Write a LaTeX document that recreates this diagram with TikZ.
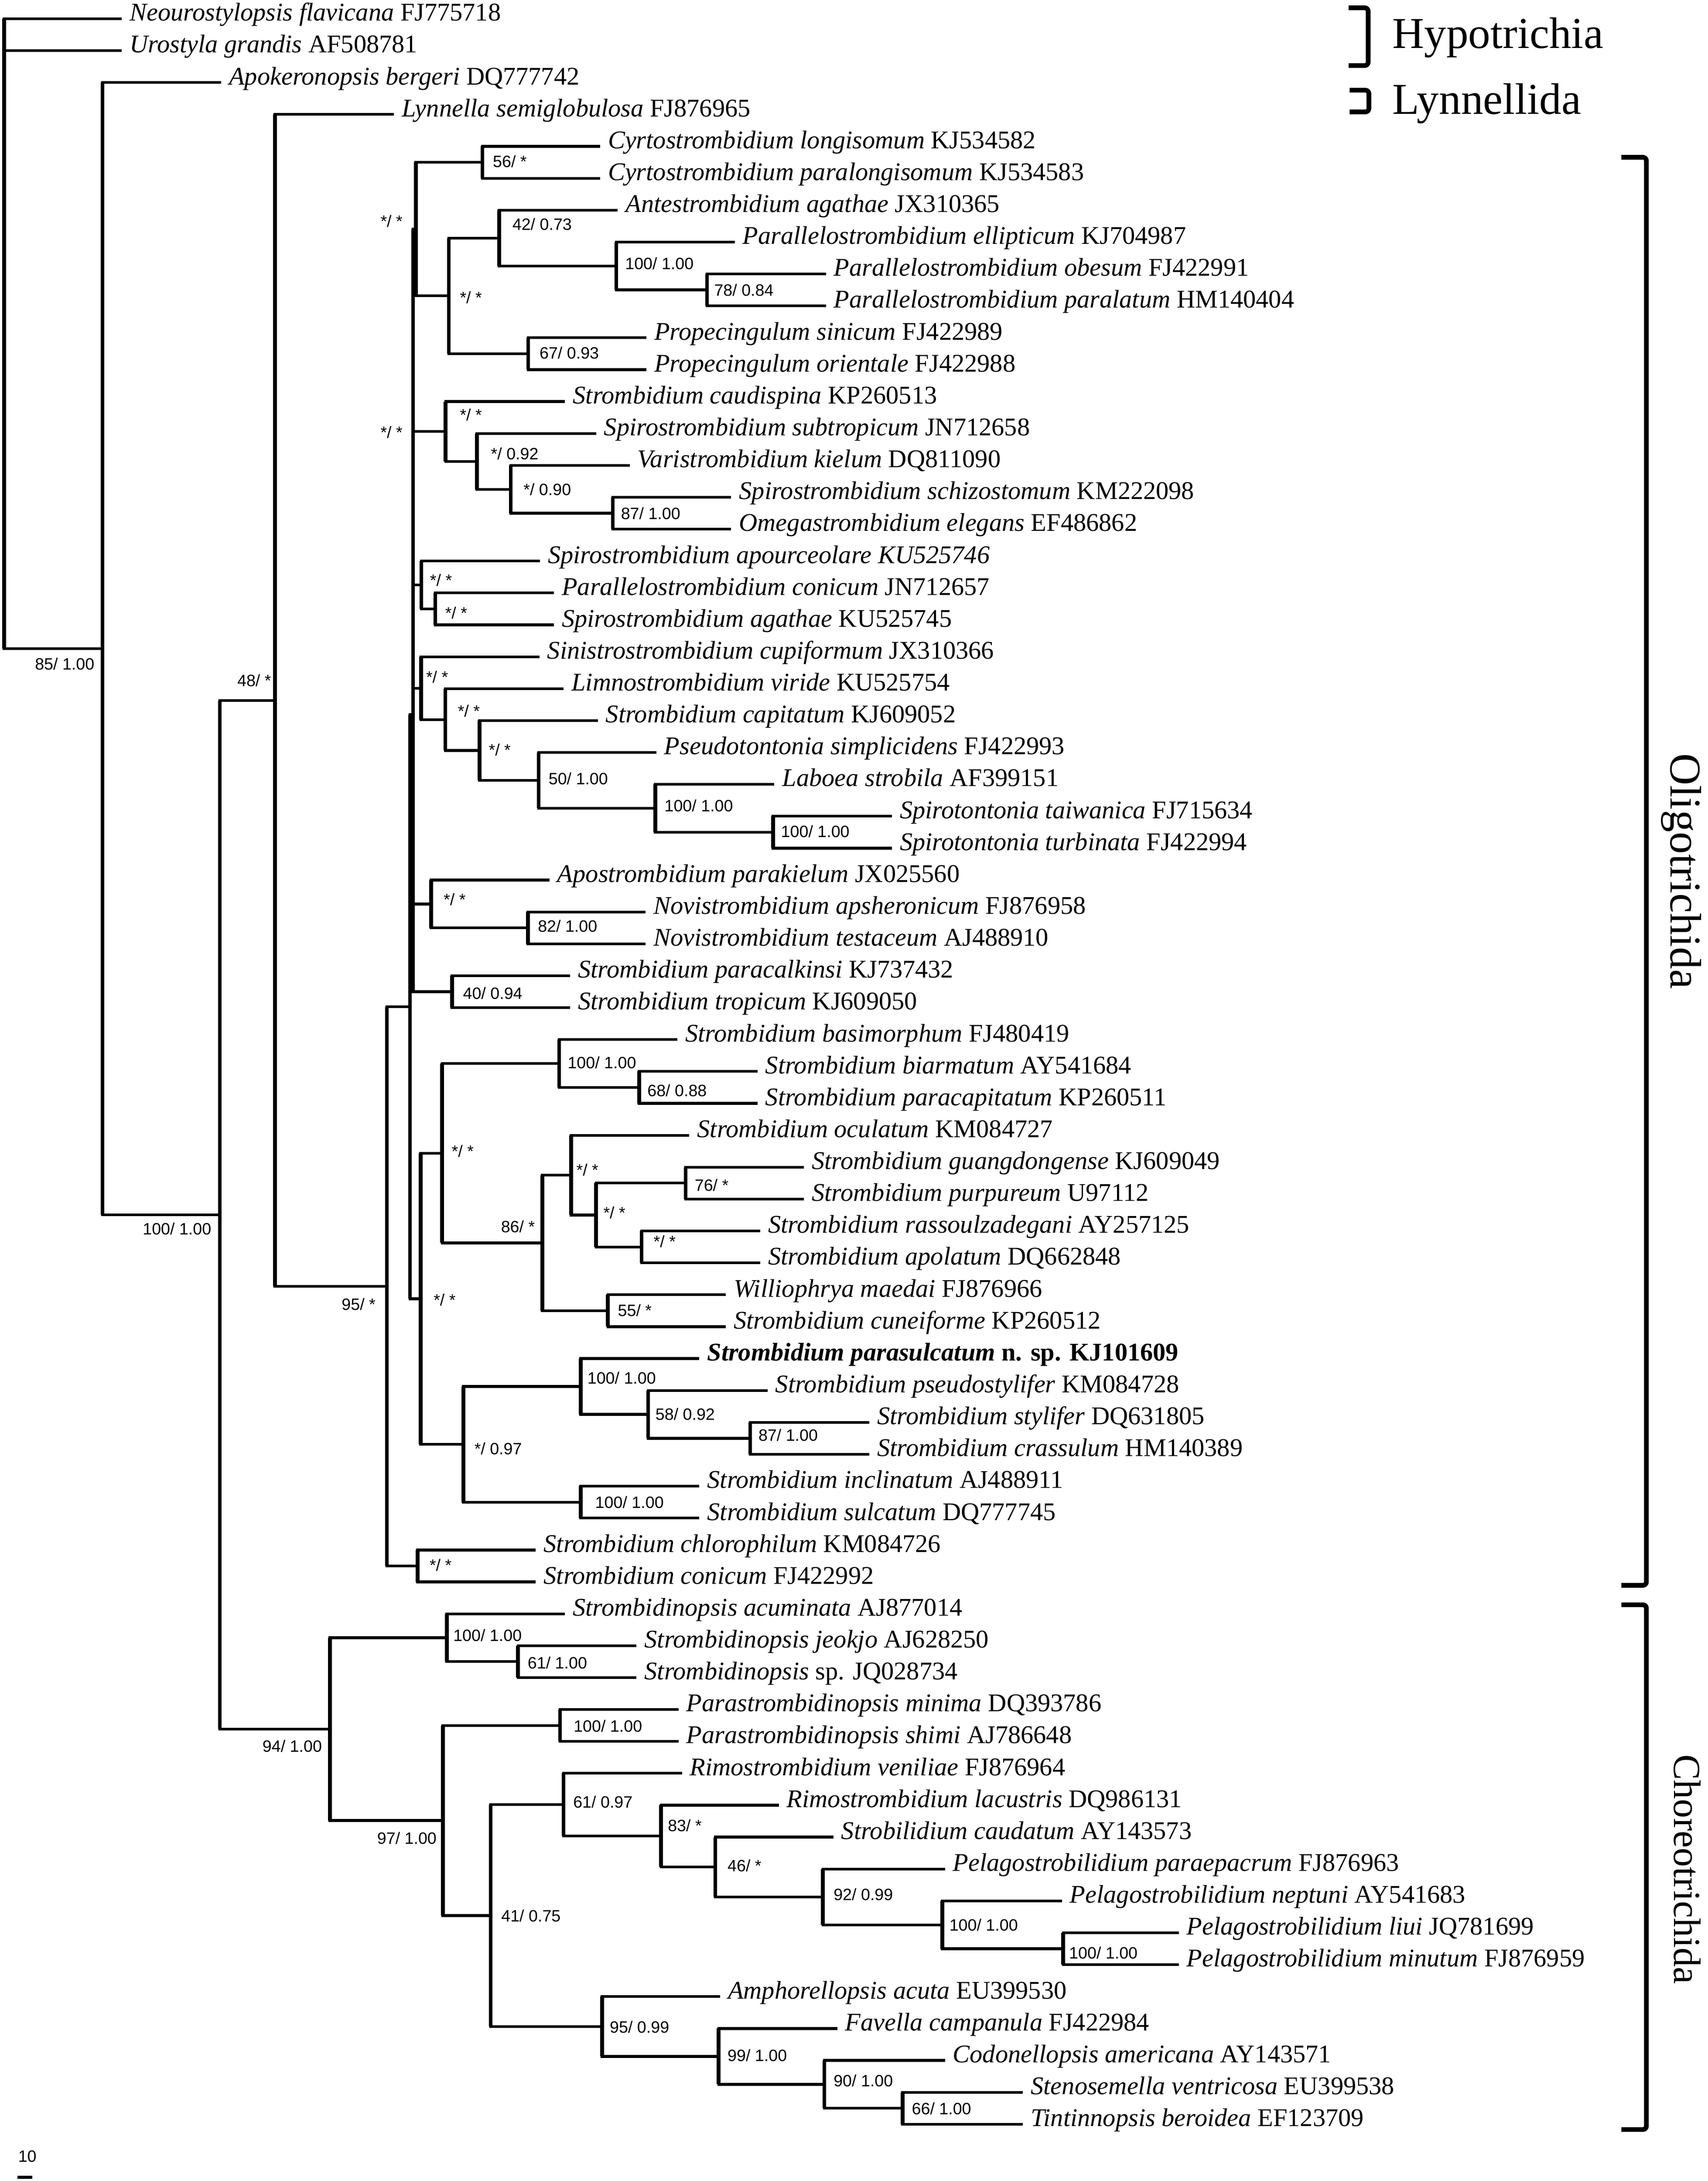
\documentclass[tikz,border=0pt]{standalone}
\usepackage{fontspec}
\setmainfont{Liberation Serif}
\newfontfamily\arialf{Liberation Sans}
\newcommand\taxfont{\fontsize{18.3pt}{20pt}\selectfont}
\newcommand\bsfont{\arialf\fontsize{11.8pt}{13pt}\selectfont}
\newcommand\grpfont{\fontsize{31.7pt}{34pt}\selectfont}
\newcommand\grpfontb{\fontsize{27.5pt}{30pt}\selectfont}
\tikzset{
  hbr/.style={line width=1.95pt},
  vbr/.style={line width=2.7pt},
  taxon/.style={anchor=base west,inner sep=0pt,font=\taxfont},
  bsr/.style={anchor=base west,inner sep=0pt,font=\bsfont},
  bsl/.style={anchor=base east,inner sep=0pt,font=\bsfont},
  grp/.style={inner sep=0pt,font=\grpfont},
  brk/.style={line width=3.4pt,rounded corners=2.5pt},
}
\newcommand\leafnode[4]{\coordinate (#1) at (#3,#2); \node[taxon] (#1t) at ([xshift=5.5pt,yshift=-1.5pt]#1) {#4};}
\newcommand\tkids[2]{\foreach \ch in {#2}{\draw[hbr] (#1) |- (\ch); \draw[vbr] (#1) -- (#1 |- \ch);}}
\newcommand\bsv[4]{\node[bsr] (b#1) at (#2,{#3+4.2}) {#4};}
\newcommand\bsL[4]{\node[bsl] (b#1) at (#2,{#3+4.2}) {#4};}
\begin{document}
\begin{tikzpicture}[x=1pt,y=-1pt]
\fill[white] (0,0) rectangle (1227,1567);
\useasboundingbox (0,0) rectangle (1227,1567);
% leaves
\leafnode{l1}{13.46}{87.5}{\textit{Neourostylopsis flavicana} FJ775718}
\leafnode{l2}{36.38}{87.5}{\textit{Urostyla grandis} AF508781}
\leafnode{l3}{59.30}{158.9}{\textit{Apokeronopsis bergeri} DQ777742}
\leafnode{l4}{82.22}{283.0}{\textit{Lynnella semiglobulosa} FJ876965}
\leafnode{l5}{105.14}{431.2}{\textit{Cyrtostrombidium longisomum} KJ534582}
\leafnode{l6}{128.06}{431.2}{\textit{Cyrtostrombidium paralongisomum} KJ534583}
\leafnode{l7}{150.98}{443.9}{\textit{Antestrombidium agathae} JX310365}
\leafnode{l8}{173.90}{528.0}{\textit{Parallelostrombidium ellipticum} KJ704987}
\leafnode{l9}{196.82}{593.5}{\textit{Parallelostrombidium obesum} FJ422991}
\leafnode{l10}{219.74}{593.5}{\textit{Parallelostrombidium paralatum} HM140404}
\leafnode{l11}{242.66}{464.4}{\textit{Propecingulum sinicum} FJ422989}
\leafnode{l12}{265.58}{464.4}{\textit{Propecingulum orientale} FJ422988}
\leafnode{l13}{288.50}{406.0}{\textit{Strombidium caudispina} KP260513}
\leafnode{l14}{311.42}{428.3}{\textit{Spirostrombidium subtropicum} JN712658}
\leafnode{l15}{334.34}{452.4}{\textit{Varistrombidium kielum} DQ811090}
\leafnode{l16}{357.26}{525.4}{\textit{Spirostrombidium schizostomum} KM222098}
\leafnode{l17}{380.18}{525.4}{\textit{Omegastrombidium elegans} EF486862}
\leafnode{l18}{403.10}{388.0}{\textit{Spirostrombidium apourceolare KU525746}}
\leafnode{l19}{426.02}{398.0}{\textit{Parallelostrombidium conicum} JN712657}
\leafnode{l20}{448.94}{398.0}{\textit{Spirostrombidium agathae} KU525745}
\leafnode{l21}{471.86}{387.6}{\textit{Sinistrostrombidium cupiformum} JX310366}
\leafnode{l22}{494.78}{405.0}{\textit{Limnostrombidium viride} KU525754}
\leafnode{l23}{517.70}{429.6}{\textit{Strombidium capitatum} KJ609052}
\leafnode{l24}{540.62}{471.6}{\textit{Pseudotontonia simplicidens} FJ422993}
\leafnode{l25}{563.54}{556.4}{\textit{Laboea strobila} AF399151}
\leafnode{l26}{586.46}{640.9}{\textit{Spirotontonia taiwanica} FJ715634}
\leafnode{l27}{609.38}{640.9}{\textit{Spirotontonia turbinata} FJ422994}
\leafnode{l28}{632.30}{394.8}{\textit{Apostrombidium parakielum} JX025560}
\leafnode{l29}{655.22}{463.8}{\textit{Novistrombidium apsheronicum} FJ876958}
\leafnode{l30}{678.14}{463.8}{\textit{Novistrombidium testaceum} AJ488910}
\leafnode{l31}{701.06}{409.7}{\textit{Strombidium paracalkinsi} KJ737432}
\leafnode{l32}{723.98}{409.7}{\textit{Strombidium tropicum} KJ609050}
\leafnode{l33}{746.90}{486.8}{\textit{Strombidium basimorphum} FJ480419}
\leafnode{l34}{769.82}{544.3}{\textit{Strombidium biarmatum} AY541684}
\leafnode{l35}{792.74}{544.3}{\textit{Strombidium paracapitatum} KP260511}
\leafnode{l36}{815.66}{495.3}{\textit{Strombidium oculatum} KM084727}
\leafnode{l37}{838.58}{577.7}{\textit{Strombidium guangdongense} KJ609049}
\leafnode{l38}{861.50}{577.7}{\textit{Strombidium purpureum} U97112}
\leafnode{l39}{884.42}{546.3}{\textit{Strombidium rassoulzadegani} AY257125}
\leafnode{l40}{907.34}{546.3}{\textit{Strombidium apolatum} DQ662848}
\leafnode{l41}{930.26}{521.6}{\textit{Williophrya maedai} FJ876966}
\leafnode{l42}{953.18}{521.6}{\textit{Strombidium cuneiforme} KP260512}
\leafnode{l43}{976.10}{502.5}{\textbf{\textit{Strombidium parasulcatum} n. sp. KJ101609}}
\leafnode{l44}{999.02}{551.5}{\textit{Strombidium pseudostylifer} KM084728}
\leafnode{l45}{1021.94}{624.6}{\textit{Strombidium stylifer} DQ631805}
\leafnode{l46}{1044.86}{624.6}{\textit{Strombidium crassulum} HM140389}
\leafnode{l47}{1067.78}{502.5}{\textit{Strombidium inclinatum} AJ488911}
\leafnode{l48}{1090.70}{502.5}{\textit{Strombidium sulcatum} DQ777745}
\leafnode{l49}{1113.62}{385.0}{\textit{Strombidium chlorophilum} KM084726}
\leafnode{l50}{1136.54}{385.0}{\textit{Strombidium conicum} FJ422992}
\leafnode{l51}{1159.46}{405.9}{\textit{Strombidinopsis acuminata} AJ877014}
\leafnode{l52}{1182.38}{457.4}{\textit{Strombidinopsis jeokjo} AJ628250}
\leafnode{l53}{1205.30}{457.4}{\textit{Strombidinopsis} sp. JQ028734}
\leafnode{l54}{1228.22}{487.5}{\textit{Parastrombidinopsis minima} DQ393786}
\leafnode{l55}{1251.14}{487.5}{\textit{Parastrombidinopsis shimi} AJ786648}
\leafnode{l56}{1274.06}{490.0}{\textit{Rimostrombidium veniliae} FJ876964}
\leafnode{l57}{1296.98}{559.6}{\textit{Rimostrombidium lacustris} DQ986131}
\leafnode{l58}{1319.90}{598.8}{\textit{Strobilidium caudatum} AY143573}
\leafnode{l59}{1342.82}{679.0}{\textit{Pelagostrobilidium paraepacrum} FJ876963}
\leafnode{l60}{1365.74}{763.0}{\textit{Pelagostrobilidium neptuni} AY541683}
\leafnode{l61}{1388.66}{847.0}{\textit{Pelagostrobilidium liui} JQ781699}
\leafnode{l62}{1411.58}{847.0}{\textit{Pelagostrobilidium minutum} FJ876959}
\leafnode{l63}{1434.50}{517.4}{\textit{Amphorellopsis acuta} EU399530}
\leafnode{l64}{1457.42}{601.6}{\textit{Favella campanula} FJ422984}
\leafnode{l65}{1480.34}{679.0}{\textit{Codonellopsis americana} AY143571}
\leafnode{l66}{1503.26}{735.0}{\textit{Stenosemella ventricosa} EU399538}
\leafnode{l67}{1526.18}{735.0}{\textit{Tintinnopsis beroidea} EF123709}
% internal nodes
\coordinate (root) at (3.0,239.7);
\coordinate (A) at (73.7,466.03);
\coordinate (B) at (158.0,872.76);
\coordinate (C) at (197.6,503.20);
\coordinate (Olig) at (278.0,924.17);
\coordinate (R) at (294.6,723.26);
\coordinate (M0) at (296.8,513.4);
\coordinate (P1) at (298.8,164.59);
\coordinate (Cyrt) at (346.6,116.60);
\coordinate (P2) at (322.5,212.58);
\coordinate (Ante) at (358.6,171.04);
\coordinate (Para) at (442.8,191.09);
\coordinate (N78) at (508.0,208.28);
\coordinate (Prop) at (379.5,254.12);
\coordinate (Q1) at (320.2,309.99);
\coordinate (N92) at (342.7,331.48);
\coordinate (N90) at (367.0,351.53);
\coordinate (N87a) at (440.3,368.72);
\coordinate (Q2) at (302.8,420.29);
\coordinate (Q2b) at (312.8,437.48);
\coordinate (Q3) at (302.6,494.42);
\coordinate (Q3b) at (320.0,516.99);
\coordinate (Q3c) at (344.6,539.19);
\coordinate (Pse) at (387.1,560.68);
\coordinate (N100L) at (470.8,580.73);
\coordinate (N100S) at (555.4,597.92);
\coordinate (Q4) at (309.7,649.49);
\coordinate (N82) at (379.4,666.68);
\coordinate (N40) at (324.8,712.52);
\coordinate (T) at (302.3,933.13);
\coordinate (U) at (317.7,828.55);
\coordinate (Bas) at (401.8,764.09);
\coordinate (N68) at (459.2,781.28);
\coordinate (N86) at (389.7,893.02);
\coordinate (Ocu) at (410.3,844.31);
\coordinate (W) at (428.3,872.96);
\coordinate (N76) at (492.7,850.04);
\coordinate (Ras) at (461.0,895.88);
\coordinate (N55) at (436.8,941.72);
\coordinate (V) at (333.0,1037.70);
\coordinate (Par) at (417.3,996.16);
\coordinate (N58) at (465.7,1016.21);
\coordinate (N87b) at (539.1,1033.40);
\coordinate (Inc) at (417.3,1079.24);
\coordinate (Chl) at (300.0,1125.08);
\coordinate (Chor) at (237.0,1242.32);
\coordinate (Sn) at (321.0,1176.65);
\coordinate (N61a) at (372.2,1193.84);
\coordinate (Chor2) at (318.2,1307.99);
\coordinate (Pst) at (402.4,1239.68);
\coordinate (N41) at (352.6,1376.31);
\coordinate (N61b) at (404.9,1296.62);
\coordinate (N83) at (475.0,1319.19);
\coordinate (N46) at (514.0,1341.39);
\coordinate (N92b) at (591.3,1362.88);
\coordinate (N100P) at (677.0,1382.93);
\coordinate (N100Q) at (764.0,1400.12);
\coordinate (N95) at (432.6,1455.99);
\coordinate (N99) at (516.4,1477.48);
\coordinate (N90b) at (592.3,1497.53);
\coordinate (N66) at (648.6,1514.72);
% branches
\tkids{root}{l1,l2,A}
\tkids{A}{l3,B}
\tkids{B}{C,Chor}
\tkids{C}{l4,Olig}
\tkids{Olig}{R,Chl}
\tkids{R}{M0,T}
\tkids{M0}{P1,Q1,Q2,Q3,Q4,N40}
\tkids{P1}{Cyrt,P2}
\tkids{Cyrt}{l5,l6}
\tkids{P2}{Ante,Prop}
\tkids{Ante}{l7,Para}
\tkids{Para}{l8,N78}
\tkids{N78}{l9,l10}
\tkids{Prop}{l11,l12}
\tkids{Q1}{l13,N92}
\tkids{N92}{l14,N90}
\tkids{N90}{l15,N87a}
\tkids{N87a}{l16,l17}
\tkids{Q2}{l18,Q2b}
\tkids{Q2b}{l19,l20}
\tkids{Q3}{l21,Q3b}
\tkids{Q3b}{l22,Q3c}
\tkids{Q3c}{l23,Pse}
\tkids{Pse}{l24,N100L}
\tkids{N100L}{l25,N100S}
\tkids{N100S}{l26,l27}
\tkids{Q4}{l28,N82}
\tkids{N82}{l29,l30}
\tkids{N40}{l31,l32}
\tkids{T}{U,V}
\tkids{U}{Bas,N86}
\tkids{Bas}{l33,N68}
\tkids{N68}{l34,l35}
\tkids{N86}{Ocu,N55}
\tkids{Ocu}{l36,W}
\tkids{W}{N76,Ras}
\tkids{N76}{l37,l38}
\tkids{Ras}{l39,l40}
\tkids{N55}{l41,l42}
\tkids{V}{Par,Inc}
\tkids{Par}{l43,N58}
\tkids{N58}{l44,N87b}
\tkids{N87b}{l45,l46}
\tkids{Inc}{l47,l48}
\tkids{Chl}{l49,l50}
\tkids{Chor}{Sn,Chor2}
\tkids{Sn}{l51,N61a}
\tkids{N61a}{l52,l53}
\tkids{Chor2}{Pst,N41}
\tkids{Pst}{l54,l55}
\tkids{N41}{N61b,N95}
\tkids{N61b}{l56,N83}
\tkids{N83}{l57,N46}
\tkids{N46}{l58,N92b}
\tkids{N92b}{l59,N100P}
\tkids{N100P}{l60,N100Q}
\tkids{N100Q}{l61,l62}
\tkids{N95}{l63,N99}
\tkids{N99}{l64,N90b}
\tkids{N90b}{l65,N66}
\tkids{N66}{l66,l67}
% support values, left of node
\bsL{A}{68}{477}{85/ 1.00}
\bsL{B}{152}{883}{100/ 1.00}
\bsL{C}{195}{489}{48/ *}
\bsL{Olig}{270}{937}{95/ *}
\bsL{Chor}{231.5}{1254.7}{94/ 1.00}
\bsL{Chor2}{313.9}{1320.6}{97/ 1.00}
\bsL{N86}{384.5}{881.4}{86/ *}
\bsL{x1}{289.4}{158.8}{*/ *}
\bsL{x2}{289.4}{310.6}{*/ *}
% support values, right of node
\bsv{Cyrt}{354}{115.9}{56/ *}
\bsv{Ante}{368}{161}{42/ 0.73}
\bsv{Para}{449}{189.2}{100/ 1.00}
\bsv{N78}{513}{208.4}{78/ 0.84}
\bsv{P2}{330.3}{213.8}{*/ *}
\bsv{Prop}{387.5}{253.5}{67/ 0.93}
\bsv{Q1}{330.3}{298.2}{*/ *}
\bsv{N92}{352.6}{325.9}{*/ 0.92}
\bsv{N90}{376}{351.6}{*/ 0.90}
\bsv{N87a}{446}{369}{87/ 1.00}
\bsv{Q2}{308.8}{417}{*/ *}
\bsv{Q2b}{319.7}{440.3}{*/ *}
\bsv{Q3}{306}{486.5}{*/ *}
\bsv{Q3b}{328.8}{511}{*/ *}
\bsv{Q3c}{351}{538.8}{*/ *}
\bsv{Pse}{394}{559.5}{50/ 1.00}
\bsv{N100L}{477.3}{578.8}{100/ 1.00}
\bsv{N100S}{561}{597.3}{100/ 1.00}
\bsv{Q4}{318.6}{646.1}{*/ *}
\bsv{N82}{386.3}{665.4}{82/ 1.00}
\bsv{N40}{332.5}{713.6}{40/ 0.94}
\bsv{Bas}{407.7}{763.6}{100/ 1.00}
\bsv{N68}{465}{783.6}{68/ 0.88}
\bsv{U}{324.4}{827}{*/ *}
\bsv{Ocu}{414}{840.5}{*/ *}
\bsv{W}{433.4}{871.3}{*/ *}
\bsv{N76}{499}{851.6}{76/ *}
\bsv{Ras}{469.5}{892}{*/ *}
\bsv{N55}{443.8}{941.4}{55/ *}
\bsv{T}{311.4}{934}{*/ *}
\bsv{Par}{421.9}{989.9}{100/ 1.00}
\bsv{N58}{470.8}{1016}{58/ 0.92}
\bsv{N87b}{544.8}{1031}{87/ 1.00}
\bsv{Inc}{427.5}{1079.4}{100/ 1.00}
\bsv{V}{340.7}{1040.7}{*/ 0.97}
\bsv{Chl}{308.5}{1124.4}{*/ *}
\bsv{Sn}{325.5}{1175}{100/ 1.00}
\bsv{N61a}{379}{1194.8}{61/ 1.00}
\bsv{Pst}{412}{1240}{100/ 1.00}
\bsv{N41}{360}{1376.5}{41/ 0.75}
\bsv{N61b}{411.7}{1294.7}{61/ 0.97}
\bsv{N83}{479.7}{1311.5}{83/ *}
\bsv{N46}{522.6}{1340.5}{46/ *}
\bsv{N92b}{598.8}{1361}{92/ 0.99}
\bsv{N100P}{682}{1383}{100/ 1.00}
\bsv{N100Q}{768}{1403}{100/ 1.00}
\bsv{N95}{438}{1456.3}{95/ 0.99}
\bsv{N99}{522.6}{1476.8}{99/ 1.00}
\bsv{N90b}{598.8}{1495}{90/ 1.00}
\bsv{N66}{655}{1515}{66/ 1.00}
% group brackets
\draw[brk] (969.1,5.6) -- (983.1,5.6) -- (983.1,47.1) -- (969.1,47.1);
\draw[brk] (969.8,64.8) -- (983.6,64.8) -- (983.6,80.4) -- (969.8,80.4);
\draw[brk] (1165,113) -- (1183,113) -- (1183,1139) -- (1165,1139);
\draw[brk] (1165,1153) -- (1183,1153) -- (1183,1530) -- (1165,1530);
\node[grp,anchor=base west] (gH) at (1000.4,34.6) {Hypotrichia};
\node[grp,anchor=base west] (gL) at (1000.4,81.8) {Lynnellida};
\node[grp,rotate=-90,anchor=base] (gO) at (1200.5,626) {Oligotrichida};
\node[grp,font=\grpfontb,rotate=-90,anchor=base] (gC) at (1203,1343) {Choreotrichida};
% scale bar
\node[bsr] (sc) at (12.9,1553.3) {10};
\coordinate (s1) at (12.6,1564.3);
\coordinate (s2) at (23.2,1564.3);
\draw[line width=2.2pt] (s1) -- (s2);
\end{tikzpicture}
\end{document}
